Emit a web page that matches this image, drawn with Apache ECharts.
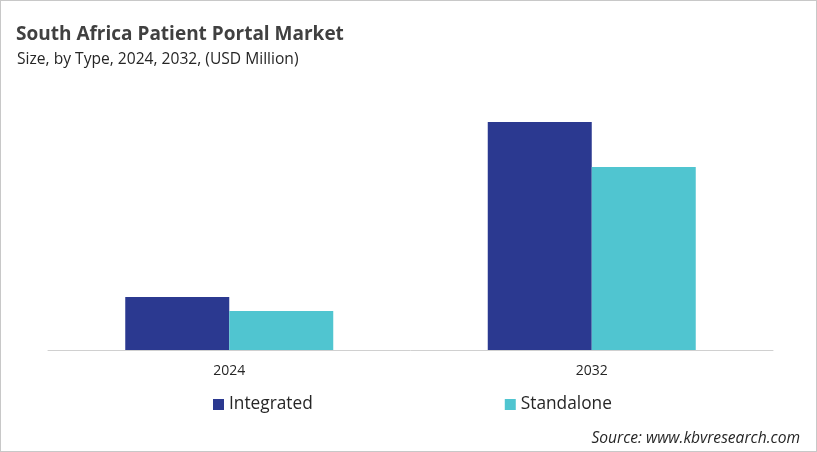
<!DOCTYPE html>
<html><head><meta charset="utf-8">
<script src="https://cdn.jsdelivr.net/npm/echarts@6/dist/echarts.min.js"></script>
<style>html,body{margin:0;padding:0;background:#fff}#c{width:815px;height:450px;border:1px solid #c8c8c8}</style>
</head><body><div id="c"></div>
<script>
var categories = ['2024', '2032'];
var integrated = [5.3, 22.8];
var standalone = [3.9, 18.3];
var seriesNames = ['Integrated', 'Standalone'];
var chart = echarts.init(document.getElementById('c'));
var font = '"Open Sans", "Noto Sans", sans-serif';
chart.setOption({
  animation: false,
  title: [
    {text: 'South Africa Patient Portal Market', left: 10, top: 19, textStyle: {fontFamily: font, fontSize: 19, fontWeight: 'bold', color: '#404040'}},
    {text: 'Size, by Type, 2024, 2032, (USD Million)', left: 11, top: 46, textStyle: {fontFamily: font, fontSize: 15.6, fontWeight: 'normal', color: '#262626'}},
    {text: 'Source: www.kbvresearch.com', right: 11, top: 425, textStyle: {fontFamily: font, fontSize: 15.6, fontStyle: 'italic', fontWeight: 'normal', color: '#262626'}}
  ],
  legend: {
    data: seriesNames, top: 390, left: 207, itemGap: 192, itemWidth: 11, itemHeight: 11, icon: 'rect',
    textStyle: {fontFamily: font, fontSize: 17.3, color: '#262626'}
  },
  grid: {left: 47, right: 43, top: 99, bottom: 101},
  xAxis: {
    type: 'category', data: categories,
    axisLine: {lineStyle: {color: '#d0d0d0', width: 1}},
    axisTick: {show: false},
    axisLabel: {fontFamily: font, fontSize: 14, color: '#262626', margin: 14}
  },
  yAxis: {type: 'value', min: 0, max: 25, show: false, splitLine: {show: false}},
  series: [
    {name: seriesNames[0], type: 'bar', data: integrated, barWidth: 104, barGap: '0%', itemStyle: {color: '#2B3990'}},
    {name: seriesNames[1], type: 'bar', data: standalone, barWidth: 104, barGap: '0%', itemStyle: {color: '#50C5D0'}}
  ]
});
</script></body></html>
